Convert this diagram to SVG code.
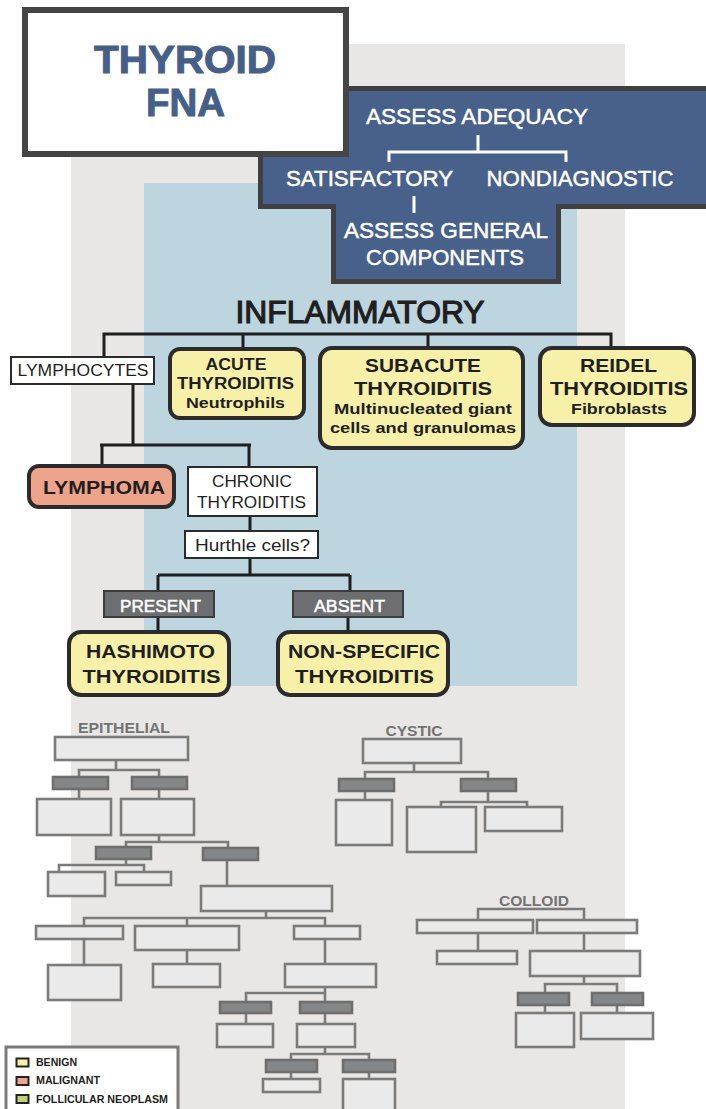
<svg xmlns="http://www.w3.org/2000/svg" width="706" height="1109" viewBox="0 0 706 1109">
<style>
.t{font-family:"Liberation Sans Narrow","Liberation Sans",Arial,sans-serif;text-anchor:middle}
.b{font-weight:bold}
.w{fill:#ffffff}
.k{fill:#1f1f1f}
.ws{stroke:#ffffff;stroke-width:0.5}
.ln{stroke:#1f1f1f;stroke-width:3;fill:none}
.wl{stroke:#ffffff;stroke-width:3;fill:none}
.wb{fill:#ffffff;stroke:#2b2b2b;stroke-width:2}
.yb{fill:#f7f0a8;stroke:#2b2b2b;stroke-width:4}
.db{fill:#6d6e70;stroke:#3c3c3c;stroke-width:2}
.gb{fill:#ebeaea;stroke:#7b7b7b;stroke-width:2.6}
.gd{fill:#858687;stroke:#6e6e6e;stroke-width:2.6}
.gl{stroke:#7b7b7b;stroke-width:2.6;fill:none}
.gt{fill:#737373;font-family:"Liberation Sans",Arial,sans-serif;font-weight:bold;font-size:14px;text-anchor:middle}
.lg{font-family:"Liberation Sans",Arial,sans-serif;font-weight:bold;font-size:11px;fill:#222}
</style>
<rect x="0" y="0" width="706" height="1109" fill="#ffffff"/>
<rect id="bg-grey" x="71" y="44" width="554" height="1065" fill="#e8e7e6"/>
<rect id="bg-blue" x="144" y="183" width="433" height="503" fill="#bdd5de"/>

<g id="adequacy">
<polygon points="260.5,88.5 720,88.5 720,206.5 558.5,206.5 558.5,281.5 333.5,281.5 333.5,206.5 260.5,206.5" fill="#47618a" stroke="#404040" stroke-width="5"/>
<text class="t w ws" x="477" y="124" font-size="22" textLength="222" lengthAdjust="spacingAndGlyphs">ASSESS ADEQUACY</text>
<text class="t w ws" x="369.5" y="186" font-size="22" textLength="167" lengthAdjust="spacingAndGlyphs">SATISFACTORY</text>
<text class="t w ws" x="580" y="186" font-size="22" textLength="187" lengthAdjust="spacingAndGlyphs">NONDIAGNOSTIC</text>
<text class="t w ws" x="446" y="238" font-size="22" textLength="204" lengthAdjust="spacingAndGlyphs">ASSESS GENERAL</text>
<text class="t w ws" x="445" y="265" font-size="22" textLength="158" lengthAdjust="spacingAndGlyphs">COMPONENTS</text>
</g>

<g id="title">
<rect x="25" y="10" width="321" height="144" fill="#ffffff" stroke="#454545" stroke-width="6"/>
<text class="t b" x="185" y="73" font-size="38" fill="#465f87" stroke="#465f87" stroke-width="1" textLength="182" lengthAdjust="spacingAndGlyphs">THYROID</text>
<text class="t b" x="185.5" y="116" font-size="38" fill="#465f87" stroke="#465f87" stroke-width="1" textLength="79" lengthAdjust="spacingAndGlyphs">FNA</text>
</g>

<g id="connectors">
<path class="wl" d="M478,135 V152 M389,162 V152 H566 V162 M414,196 V213"/>
<path class="ln" d="M104,357 V334 H611 V347 M243,334 V347 M428,334 V346"/>
<path class="ln" d="M133,384 V445 M100,445 H251 M102,445 V464 M249,445 V467"/>
<path class="ln" d="M250,516 V531 M250,558 V575 M158,575 H350 M158,575 V591 M350,575 V591 M158,617 V630 M348,617 V630"/>
</g>

<g id="inflammatory-label">
<text class="t k" x="360" y="323" font-size="31" stroke="#1f1f1f" stroke-width="1.2" textLength="249" lengthAdjust="spacingAndGlyphs">INFLAMMATORY</text>
</g>

<g id="lymphocytes">
<rect class="wb" x="11" y="357" width="143" height="27"/>
<text class="t k" x="83" y="376" font-size="17" textLength="131" lengthAdjust="spacingAndGlyphs">LYMPHOCYTES</text>
</g>

<g id="acute">
<rect class="yb" x="170" y="349" width="134" height="69" rx="10"/>
<text class="t b k" x="236" y="370" font-size="16" textLength="61" lengthAdjust="spacingAndGlyphs">ACUTE</text>
<text class="t b k" x="235.5" y="389" font-size="16" textLength="117" lengthAdjust="spacingAndGlyphs">THYROIDITIS</text>
<text class="t b k" x="235.5" y="408" font-size="15" textLength="99" lengthAdjust="spacingAndGlyphs">Neutrophils</text>
</g>

<g id="subacute">
<rect class="yb" x="320" y="348" width="203" height="100" rx="12"/>
<text class="t b k" x="423" y="372" font-size="19" textLength="116" lengthAdjust="spacingAndGlyphs">SUBACUTE</text>
<text class="t b k" x="423" y="395" font-size="19" textLength="138" lengthAdjust="spacingAndGlyphs">THYROIDITIS</text>
<text class="t b k" x="423" y="414" font-size="15" textLength="178" lengthAdjust="spacingAndGlyphs">Multinucleated giant</text>
<text class="t b k" x="423" y="433" font-size="15" textLength="186" lengthAdjust="spacingAndGlyphs">cells and granulomas</text>
</g>

<g id="reidel">
<rect class="yb" x="540" y="348" width="154" height="77" rx="12"/>
<text class="t b k" x="618.5" y="372" font-size="19" textLength="77" lengthAdjust="spacingAndGlyphs">REIDEL</text>
<text class="t b k" x="619" y="395" font-size="19" textLength="138" lengthAdjust="spacingAndGlyphs">THYROIDITIS</text>
<text class="t b k" x="619" y="414" font-size="15" textLength="96" lengthAdjust="spacingAndGlyphs">Fibroblasts</text>
</g>

<g id="lymphoma">
<rect x="29" y="466" width="145" height="41" rx="10" fill="#eea48b" stroke="#2b2b2b" stroke-width="4"/>
<text class="t b k" x="104" y="494" font-size="18" textLength="122" lengthAdjust="spacingAndGlyphs">LYMPHOMA</text>
</g>

<g id="chronic">
<rect class="wb" x="188" y="467" width="129" height="49"/>
<text class="t k" x="252" y="487" font-size="17" textLength="80" lengthAdjust="spacingAndGlyphs">CHRONIC</text>
<text class="t k" x="251.5" y="508" font-size="17" textLength="109" lengthAdjust="spacingAndGlyphs">THYROIDITIS</text>
</g>

<g id="hurthle">
<rect class="wb" x="185" y="531" width="133" height="27"/>
<text class="t k" x="252.5" y="551" font-size="16" textLength="115" lengthAdjust="spacingAndGlyphs">Hurthle cells?</text>
</g>

<g id="present">
<rect class="db" x="104" y="591" width="110" height="26"/>
<text class="t w ws" x="160.5" y="612" font-size="17" textLength="81" lengthAdjust="spacingAndGlyphs">PRESENT</text>
</g>
<g id="absent">
<rect class="db" x="293" y="591" width="110" height="26"/>
<text class="t w ws" x="349.5" y="612" font-size="17" textLength="71" lengthAdjust="spacingAndGlyphs">ABSENT</text>
</g>

<g id="hashimoto">
<rect class="yb" x="69" y="632" width="160" height="63" rx="12"/>
<text class="t b k" x="150.5" y="658" font-size="19" textLength="129" lengthAdjust="spacingAndGlyphs">HASHIMOTO</text>
<text class="t b k" x="151.5" y="683" font-size="19" textLength="138" lengthAdjust="spacingAndGlyphs">THYROIDITIS</text>
</g>
<g id="nonspecific">
<rect class="yb" x="278" y="632" width="170" height="63" rx="12"/>
<text class="t b k" x="364" y="658" font-size="19" textLength="152" lengthAdjust="spacingAndGlyphs">NON-SPECIFIC</text>
<text class="t b k" x="364.5" y="683" font-size="19" textLength="139" lengthAdjust="spacingAndGlyphs">THYROIDITIS</text>
</g>

<g id="epithelial">
<text class="gt" x="124" y="733" textLength="92" lengthAdjust="spacingAndGlyphs">EPITHELIAL</text>
<path class="gl" d="M116,760 V770 M79,777 V770 H159 V777 M79,789 V799 M159,789 V799 M159,835 V842 M126,847 V842 H228 V848 M126,859 V865 M59,872 V865 H144 V872 M227,860 V886 M266,911 V918 M84,926 V918 H325 V926 M187,918 V926 M84,939 V965 M187,950 V964 M325,939 V964 M325,987 V993 M246,1002 V993 H325 V1002 M246,1013 V1024 M325,1013 V1024 M325,1047 V1054 M291,1060 V1054 H369 V1060 M291,1072 V1079 M369,1072 V1079"/>
<rect class="gb" x="55" y="737" width="133" height="23"/>
<rect class="gd" x="53" y="777" width="55" height="12"/>
<rect class="gd" x="132" y="777" width="55" height="12"/>
<rect class="gb" x="37" y="799" width="74" height="36"/>
<rect class="gb" x="121" y="799" width="73" height="36"/>
<rect class="gd" x="96" y="847" width="55" height="12"/>
<rect class="gd" x="203" y="848" width="55" height="12"/>
<rect class="gb" x="48" y="872" width="57" height="24"/>
<rect class="gb" x="116" y="872" width="55" height="13"/>
<rect class="gb" x="201" y="886" width="131" height="25"/>
<rect class="gb" x="36" y="926" width="87" height="13"/>
<rect class="gb" x="135" y="926" width="104" height="24"/>
<rect class="gb" x="294" y="926" width="66" height="13"/>
<rect class="gb" x="48" y="965" width="73" height="35"/>
<rect class="gb" x="153" y="964" width="67" height="23"/>
<rect class="gb" x="285" y="964" width="91" height="23"/>
<rect class="gd" x="220" y="1002" width="51" height="11"/>
<rect class="gd" x="300" y="1002" width="52" height="11"/>
<rect class="gb" x="217" y="1024" width="56" height="23"/>
<rect class="gb" x="297" y="1024" width="58" height="23"/>
<rect class="gd" x="266" y="1060" width="51" height="12"/>
<rect class="gd" x="343" y="1060" width="52" height="12"/>
<rect class="gb" x="263" y="1079" width="57" height="13"/>
<rect class="gb" x="343" y="1079" width="52" height="40"/>
</g>

<g id="cystic">
<text class="gt" x="414" y="736" textLength="57" lengthAdjust="spacingAndGlyphs">CYSTIC</text>
<path class="gl" d="M414,763 V772 M365,779 V772 H488 V779 M365,791 V800 M488,791 V802 M441,807 V802 H527 V807"/>
<rect class="gb" x="363" y="739" width="98" height="24"/>
<rect class="gd" x="339" y="779" width="55" height="12"/>
<rect class="gd" x="461" y="779" width="55" height="12"/>
<rect class="gb" x="336" y="800" width="56" height="45"/>
<rect class="gb" x="407" y="807" width="69" height="45"/>
<rect class="gb" x="485" y="807" width="77" height="24"/>
</g>

<g id="colloid">
<text class="gt" x="534" y="906" textLength="70" lengthAdjust="spacingAndGlyphs">COLLOID</text>
<path class="gl" d="M478,920 V909 H584 V920 M478,933 V951 M584,933 V951 M584,976 V984 M545,993 V984 H617 V993 M545,1005 V1013 M617,1005 V1013"/>
<rect class="gb" x="417" y="920" width="116" height="13"/>
<rect class="gb" x="537" y="920" width="100" height="13"/>
<rect class="gb" x="437" y="951" width="80" height="13"/>
<rect class="gb" x="530" y="951" width="110" height="25"/>
<rect class="gd" x="518" y="993" width="51" height="12"/>
<rect class="gd" x="592" y="993" width="51" height="12"/>
<rect class="gb" x="516" y="1013" width="58" height="34"/>
<rect class="gb" x="581" y="1013" width="72" height="26"/>
</g>

<g id="legend">
<rect x="6" y="1047" width="172" height="80" fill="#ffffff" stroke="#7b7b7b" stroke-width="3"/>
<rect x="16.5" y="1058.5" width="12" height="8" fill="#f7f0a8" stroke="#222" stroke-width="2"/>
<rect x="16.5" y="1077" width="12" height="8" fill="#eea48b" stroke="#222" stroke-width="2"/>
<rect x="16.5" y="1095" width="12" height="8" fill="#bfd27a" stroke="#222" stroke-width="2"/>
<text class="lg" x="36" y="1066" textLength="41" lengthAdjust="spacingAndGlyphs">BENIGN</text>
<text class="lg" x="36" y="1084" textLength="64" lengthAdjust="spacingAndGlyphs">MALIGNANT</text>
<text class="lg" x="36" y="1103" textLength="132" lengthAdjust="spacingAndGlyphs">FOLLICULAR NEOPLASM</text>
</g>
</svg>
